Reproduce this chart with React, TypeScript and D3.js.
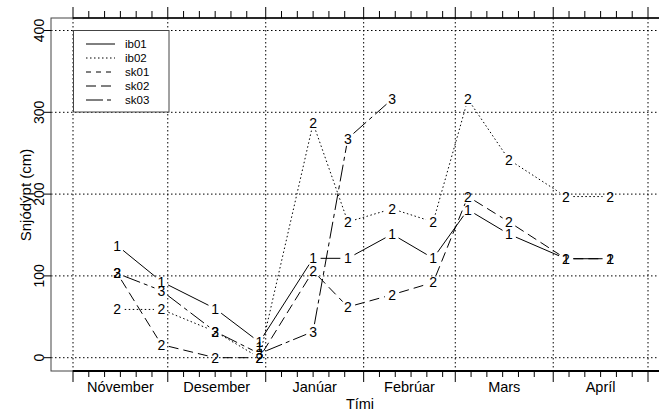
import React from "react";
import * as d3 from "d3";

const dates = ["2007-11-15", "2007-11-29", "2007-12-16", "2007-12-30", "2008-01-16", "2008-01-27", "2008-02-10", "2008-02-23", "2008-03-05", "2008-03-18", "2008-04-05", "2008-04-19"];
const ib01 = [137, 93, 60, 19, 121.5, 121.5, 151, 121.5, 181, 151, 121, 121];
const ib02 = [59, 59, 32, 0, 286.5, 166, 182, 166, 316, 242, 197, 197];
const sk01 = [null, null, null, 13.5, null, null, null, null, null, null, null, null];
const sk02 = [103, 16, 0, 0, 106, 62, 77, 92, 197, 166, 121, 121];
const sk03 = [103, 82, 32, 5, 32, 268, 316, null, null, null, null, null];

const seriesNames = ["ib01", "ib02", "sk01", "sk02", "sk03"];
const seriesValues = [ib01, ib02, sk01, sk02, sk03];
const seriesLabels = ["1", "2", "1", "2", "3"];
const seriesDash = ["", "1.5,2.5", "5,5", "10,5", "17,4,4,4"];

const yTicks = [0, 100, 200, 300, 400];
const monthStarts = ["2007-11-01", "2007-12-01", "2008-01-01", "2008-02-01", "2008-03-01", "2008-04-01", "2008-05-01"];
const monthNames = ["Nóvember", "Desember", "Janúar", "Febrúar", "Mars", "Apríl"];

const FONT = "'Liberation Sans', Arial, Helvetica, sans-serif";

export default function App() {
  const W = 659, H = 415;
  const parse = (s: string) => new Date(s + "T00:00:00");
  const x = d3.scaleTime().domain([parse(monthStarts[0]), parse(monthStarts[monthStarts.length - 1])]).range([73, 648]);
  const y = d3.scaleLinear().domain([0, 400]).range([357.7, 30.5]);
  const boxL = 51, boxT = 18, boxB = 371, axL = 73;

  const minorTicks: Date[] = [];
  for (let i = 0; i < monthStarts.length - 1; i++) {
    const s = parse(monthStarts[i]);
    for (const d of [5, 10, 15, 20, 25]) minorTicks.push(d3.timeDay.offset(s, d));
  }

  const gap = 7.5;
  const segs: { x1: number; y1: number; x2: number; y2: number; k: number }[] = [];
  const labels: { x: number; y: number; t: string; k: number }[] = [];
  seriesValues.forEach((vals, k) => {
    const pts = vals.map((v, i) => (v == null ? null : [x(parse(dates[i])), y(v as number)] as [number, number]));
    pts.forEach((p) => { if (p) labels.push({ x: p[0], y: p[1], t: seriesLabels[k], k }); });
    for (let i = 0; i < pts.length - 1; i++) {
      const a = pts[i], b = pts[i + 1];
      if (!a || !b) continue;
      const dx = b[0] - a[0], dy = b[1] - a[1];
      const L = Math.hypot(dx, dy);
      if (L <= 2 * gap) continue;
      const ux = dx / L, uy = dy / L;
      segs.push({ x1: a[0] + ux * gap, y1: a[1] + uy * gap, x2: b[0] - ux * gap, y2: b[1] - uy * gap, k });
    }
  });

  const legendRows = seriesNames.map((n, i) => ({ n, i, yy: 44 + i * 14 }));

  return (
    <svg width={W} height={H} style={{ display: "block", position: "absolute", left: 0, top: 0, background: "#fff" }}>
      <rect x={0} y={0} width={W} height={H} fill="#fff" />
      {/* grid */}
      {yTicks.map((t) => (
        <line key={"gy" + t} x1={boxL} x2={W} y1={y(t)} y2={y(t)} stroke="#000" strokeWidth={1} strokeDasharray="1.5,2.5" />
      ))}
      {monthStarts.map((m) => (
        <line key={"gx" + m} x1={x(parse(m))} x2={x(parse(m))} y1={boxT} y2={boxB} stroke="#000" strokeWidth={1} strokeDasharray="1.5,2.5" />
      ))}
      {/* box */}
      <rect x={boxL} y={boxT} width={700} height={boxB - boxT} fill="none" stroke="#444" strokeWidth={1} />
      {/* top axis */}
      <line x1={axL} x2={W} y1={boxT} y2={boxT} stroke="#000" strokeWidth={1.5} />
      {monthStarts.map((m) => (
        <line key={"tt" + m} x1={x(parse(m))} x2={x(parse(m))} y1={boxT} y2={boxT - 11} stroke="#000" strokeWidth={1} />
      ))}
      {minorTicks.map((d, i) => (
        <line key={"tm" + i} x1={x(d)} x2={x(d)} y1={boxT} y2={boxT - 7} stroke="#000" strokeWidth={1} />
      ))}
      {/* bottom axis */}
      <line x1={axL} x2={W} y1={boxB} y2={boxB} stroke="#000" strokeWidth={2} />
      {monthStarts.map((m) => (
        <line key={"bt" + m} x1={x(parse(m))} x2={x(parse(m))} y1={boxB} y2={boxB + 11} stroke="#000" strokeWidth={1} />
      ))}
      {minorTicks.map((d, i) => (
        <line key={"bm" + i} x1={x(d)} x2={x(d)} y1={boxB} y2={boxB + 6} stroke="#000" strokeWidth={1} />
      ))}
      {monthNames.map((n, i) => {
        const cx = (x(parse(monthStarts[i])) + x(parse(monthStarts[i + 1]))) / 2;
        return (
          <text key={n} x={cx} y={392} textAnchor="middle" fontFamily={FONT} fontSize={14.5} fill="#000">{n}</text>
        );
      })}
      <text x={360} y={409} textAnchor="middle" fontFamily={FONT} fontSize={14.5} fill="#000">Tími</text>
      {/* y axis */}
      {yTicks.map((t) => (
        <g key={"yt" + t}>
          <line x1={boxL - 7} x2={boxL} y1={y(t)} y2={y(t)} stroke="#000" strokeWidth={1} />
          <text transform={`translate(44,${y(t)}) rotate(-90)`} textAnchor="middle" fontFamily={FONT} fontSize={14} fill="#000">{t}</text>
        </g>
      ))}
      <text transform={`translate(31,195) rotate(-90)`} textAnchor="middle" fontFamily={FONT} fontSize={15} fill="#000">Snjódýpt (cm)</text>
      {/* series */}
      {segs.map((s, i) => (
        <line key={"s" + i} x1={s.x1} y1={s.y1} x2={s.x2} y2={s.y2} stroke="#000" strokeWidth={1} strokeDasharray={seriesDash[s.k] || undefined} />
      ))}
      {labels.map((l, i) => (
        <text key={"l" + i} x={l.x} y={l.y} dy="0.36em" textAnchor="middle" fontFamily={FONT} fontSize={14} fill="#000">{l.t}</text>
      ))}
      {/* legend */}
      <rect x={73.5} y={30.5} width={95.5} height={81.5} fill="#fff" stroke="#444" strokeWidth={1} />
      {legendRows.map((r) => (
        <g key={r.n}>
          <line x1={86} x2={115} y1={r.yy} y2={r.yy} stroke="#000" strokeWidth={1} strokeDasharray={seriesDash[r.i] || undefined} />
          <text x={125} y={r.yy} dy="0.35em" fontFamily={FONT} fontSize={11.5} fill="#000">{r.n}</text>
        </g>
      ))}
    </svg>
  );
}
